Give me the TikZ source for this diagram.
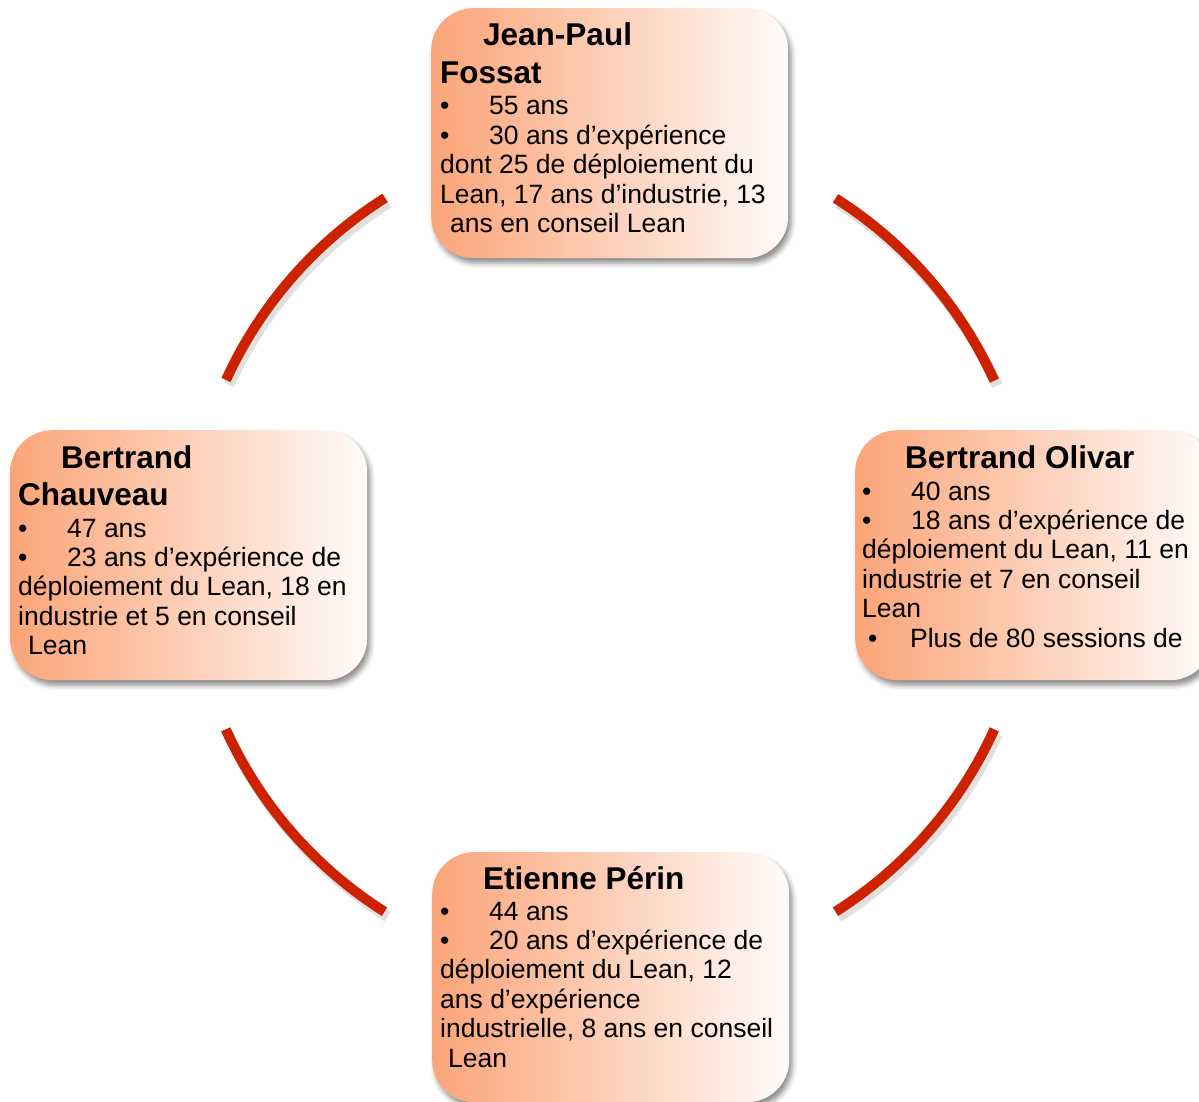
\documentclass[tikz,border=0pt]{standalone}
\usepackage{fontspec}
\setmainfont{Liberation Sans}
\usetikzlibrary{shadows.blur}

\definecolor{peach}{RGB}{251,164,120}
\definecolor{paper}{RGB}{255,251,249}
\definecolor{ringred}{RGB}{204,34,0}

\newcommand{\bul}{\makebox[49pt][l]{•}}

\tikzset{
  card/.style={rectangle, rounded corners=42pt, minimum width=357pt,
    minimum height=250pt, inner sep=0pt, anchor=north west,
    left color=peach, right color=paper, draw=none,
    blur shadow={shadow xshift=3pt, shadow yshift=-5pt,
      shadow blur radius=5pt, shadow opacity=45}},
  persontitle/.style={anchor=base west, inner sep=0pt,
    font=\fontsize{31.5}{37}\selectfont\bfseries},
  bodytext/.style={anchor=base west, inner sep=0pt,
    font=\fontsize{26.5}{29.5}\selectfont},
  ringarc/.style={draw=ringred, line width=10pt},
  ringshade/.style={draw=black, line width=11pt, opacity=0.12}
}

\begin{document}
\begin{tikzpicture}[x=1pt,y=-1pt]
\useasboundingbox (0,0) rectangle (1199,1102);
\clip (0,0) rectangle (1199,1102);

% ring segments between the four cards
\coordinate (hub) at (610,555);
\foreach \a/\b in {204.5/237.8, 302.3/335.6, 24.4/57.7, 122.3/155.6}{
  \draw[ringshade] ([shift={(\a:422)}]hub) ++(3,5) arc[start angle=\a, end angle=\b, radius=422];
  \draw[ringarc] ([shift={(\a:422)}]hub) arc[start angle=\a, end angle=\b, radius=422];
}

% cards
\node[card] (jp) at (431,8) {};
\node[card] (bc) at (10,430) {};
\node[card] (bo) at (855,430) {};
\node[card] (ep) at (432,852) {};

% Jean-Paul Fossat
\node[persontitle] (jp-n1) at (483,46) {Jean-Paul};
\node[persontitle] (jp-n2) at (440,84) {Fossat};
\foreach \t [count=\i] in {{\bul 55 ans},{\bul 30 ans d’expérience},
  {dont 25 de déploiement du},{Lean, 17 ans d’industrie, 13},
  {\hspace*{10pt}ans en conseil Lean}}
  \node[bodytext] (jp-\i) at (440,{115+29.4*(\i-1)}) {\t};

% Bertrand Chauveau
\node[persontitle] (bc-n1) at (61,468) {Bertrand};
\node[persontitle] (bc-n2) at (18,505) {Chauveau};
\foreach \t [count=\i] in {{\bul 47 ans},{\bul 23 ans d’expérience de},
  {déploiement du Lean, 18 en},{industrie et 5 en conseil},
  {\hspace*{10pt}Lean}}
  \node[bodytext] (bc-\i) at (18,{537+29.4*(\i-1)}) {\t};

% Bertrand Olivar
\node[persontitle] (bo-n1) at (905,468) {Bertrand Olivar};
\foreach \t [count=\i] in {{\bul 40 ans},{\bul 18 ans d’expérience de},
  {déploiement du Lean, 11 en},{industrie et 7 en conseil},
  {Lean},{\hspace*{6pt}\makebox[42pt][l]{•}Plus de 80 sessions de}}
  \node[bodytext] (bo-\i) at (862,{500+29.4*(\i-1)}) {\t};

% Etienne Périn
\node[persontitle] (ep-n1) at (483,889) {Etienne Périn};
\foreach \t [count=\i] in {{\bul 44 ans},{\bul 20 ans d’expérience de},
  {déploiement du Lean, 12},{ans d’expérience},
  {industrielle, 8 ans en conseil},{\hspace*{8pt}Lean}}
  \node[bodytext] (ep-\i) at (440,{920+29.4*(\i-1)}) {\t};
\end{tikzpicture}
\end{document}
